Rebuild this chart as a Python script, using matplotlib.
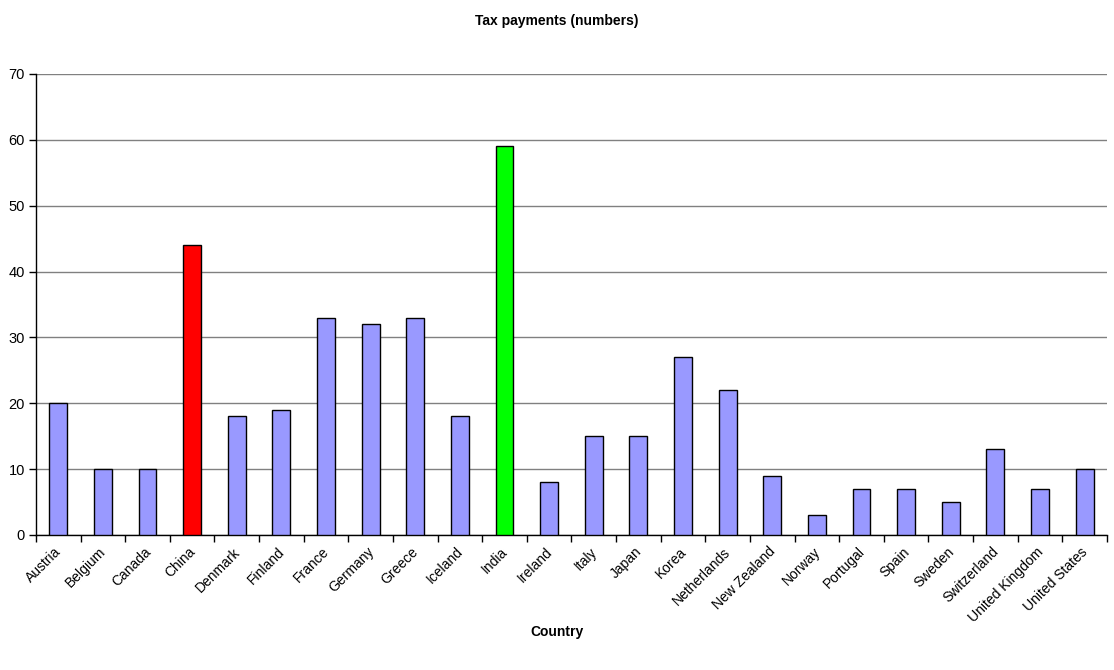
import numpy as np
import matplotlib
matplotlib.use("Agg")
import matplotlib.pyplot as plt
import matplotlib.transforms as mtransforms
from matplotlib.ticker import FixedLocator

plt.rcParams['font.family'] = ['Liberation Sans', 'DejaVu Sans']

# data
countries = ["Austria", "Belgium", "Canada", "China", "Denmark", "Finland", "France",
             "Germany", "Greece", "Iceland", "India", "Ireland", "Italy", "Japan",
             "Korea", "Netherlands", "New Zealand", "Norway", "Portugal", "Spain",
             "Sweden", "Switzerland", "United Kingdom", "United States"]
payments = [20, 10, 10, 44, 18, 19, 33, 32, 33, 18, 59, 8, 15, 15,
            27, 22, 9, 3, 7, 7, 5, 13, 7, 10]
highlight = {"China": "#FF0000", "India": "#00FF00"}

colors = [highlight.get(c, "#9999FF") for c in countries]
x = np.arange(len(countries))

fig = plt.figure(figsize=(11.14, 6.7), dpi=100)
ax = fig.add_axes([0.0323, 0.2015, 0.9614, 0.6881])

ax.bar(x, payments, width=0.4, color=colors, edgecolor="black", linewidth=1, zorder=3)

ax.set_xlim(-0.5, len(countries) - 0.5)
ax.set_ylim(0, 70)
ax.set_yticks(range(0, 71, 10))
ax.yaxis.grid(True, color="#808080", linewidth=1, zorder=0)

# boundary ticks as major, labels on minor ticks at bar centres
ax.xaxis.set_major_locator(FixedLocator(np.arange(-0.5, len(countries), 1)))
ax.xaxis.set_major_formatter(plt.NullFormatter())
ax.xaxis.set_minor_locator(FixedLocator(x))
ax.set_xticklabels(countries, minor=True, rotation=45, ha="right",
                   rotation_mode="anchor", fontsize=10)
ax.tick_params(axis="x", which="minor", length=0, pad=7)
ax.tick_params(axis="x", which="major", length=5, width=1, direction="out")
ax.tick_params(axis="y", length=5, width=1, labelsize=10.5, pad=3)

shift = mtransforms.ScaledTranslation(-4 / 100, 0, fig.dpi_scale_trans)
for lbl in ax.get_xticklabels(minor=True):
    lbl.set_transform(lbl.get_transform() + shift)

for side in ["top", "right"]:
    ax.spines[side].set_visible(False)
ax.spines["left"].set_linewidth(1)
ax.spines["bottom"].set_linewidth(1)

fig.text(0.5, 0.968, "Tax payments (numbers)", ha="center", va="center",
         fontsize=10, fontweight="bold")
fig.text(0.5, 0.057, "Country", ha="center", va="center",
         fontsize=10, fontweight="bold")

fig.savefig("out.png", dpi=100)
